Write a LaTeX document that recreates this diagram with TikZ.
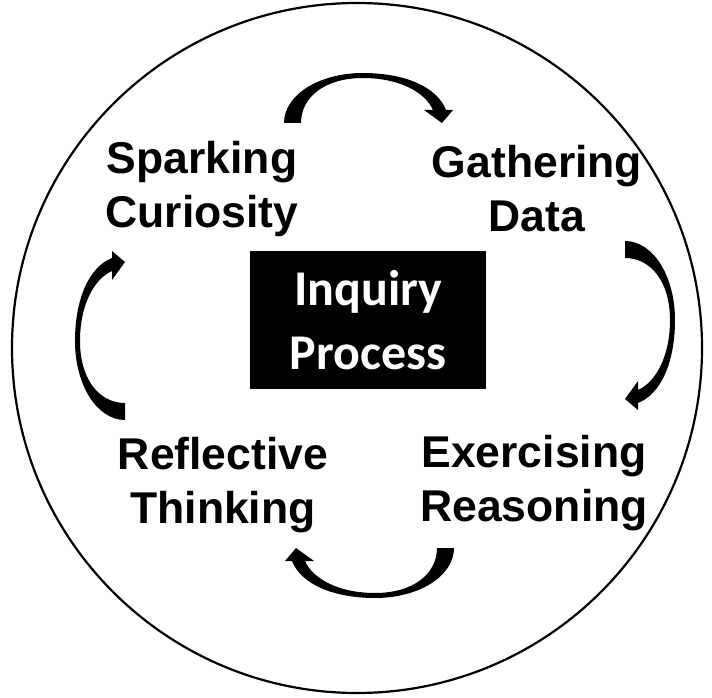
\documentclass[tikz,border=0pt]{standalone}
\usepackage{fontspec}
\setmainfont{Liberation Sans}
\newfontfamily\boxfont{Carlito}
\usepackage{tikz}

\tikzset{
  stagelabel/.style={align=center, inner sep=0pt,
                     font=\fontsize{44.5}{54}\selectfont\bfseries},
  processbox/.style={fill=black, text=white, align=center, inner sep=0pt,
                     minimum width=236pt, minimum height=137pt,
                     font=\boxfont\fontsize{50}{64}\selectfont\bfseries},
  cyclearrow/.pic={
    \fill (-83,0) .. controls (-83,28) and (-48,50) .. (-4,50)
          .. controls (38,50) and (70,36) .. (79,13)
          -- (86,13) -- (75,0) -- (57,13) -- (66,13)
          .. controls (58,31) and (32,45) .. (-4,45)
          .. controls (-42,45) and (-66,26) .. (-66,0) -- cycle;
  }
}

\begin{document}
\begin{tikzpicture}[x=1pt,y=1pt]
\useasboundingbox (0,0) rectangle (712,697);

\node[circle, draw, line width=2.2pt, minimum size=690pt] (rim) at (357,349) {};

\node[processbox] (inquiry) at (368,377) {Inquiry\\Process};

\node[stagelabel] (spark)    at (202,508) {Sparking\\Curiosity};
\node[stagelabel] (gather)   at (537,508) {Gathering\\Data};
\node[stagelabel] (exercise) at (534,214) {Exercising\\Reasoning};
\node[stagelabel] (reflect)  at (223,212) {Reflective\\Thinking};

% arrows round the cycle
\coordinate (toparrow)   at (367,574);
\coordinate (rightarrow) at (625,373);
\coordinate (botarrow)   at (371,149);
\coordinate (leftarrow)  at (125,360);
\pic at (toparrow) {cyclearrow};
\pic[rotate=-90] at (rightarrow) {cyclearrow};
\pic[rotate=180] at (botarrow) {cyclearrow};
\pic[rotate=90] at (leftarrow) {cyclearrow};
\end{tikzpicture}
\end{document}
